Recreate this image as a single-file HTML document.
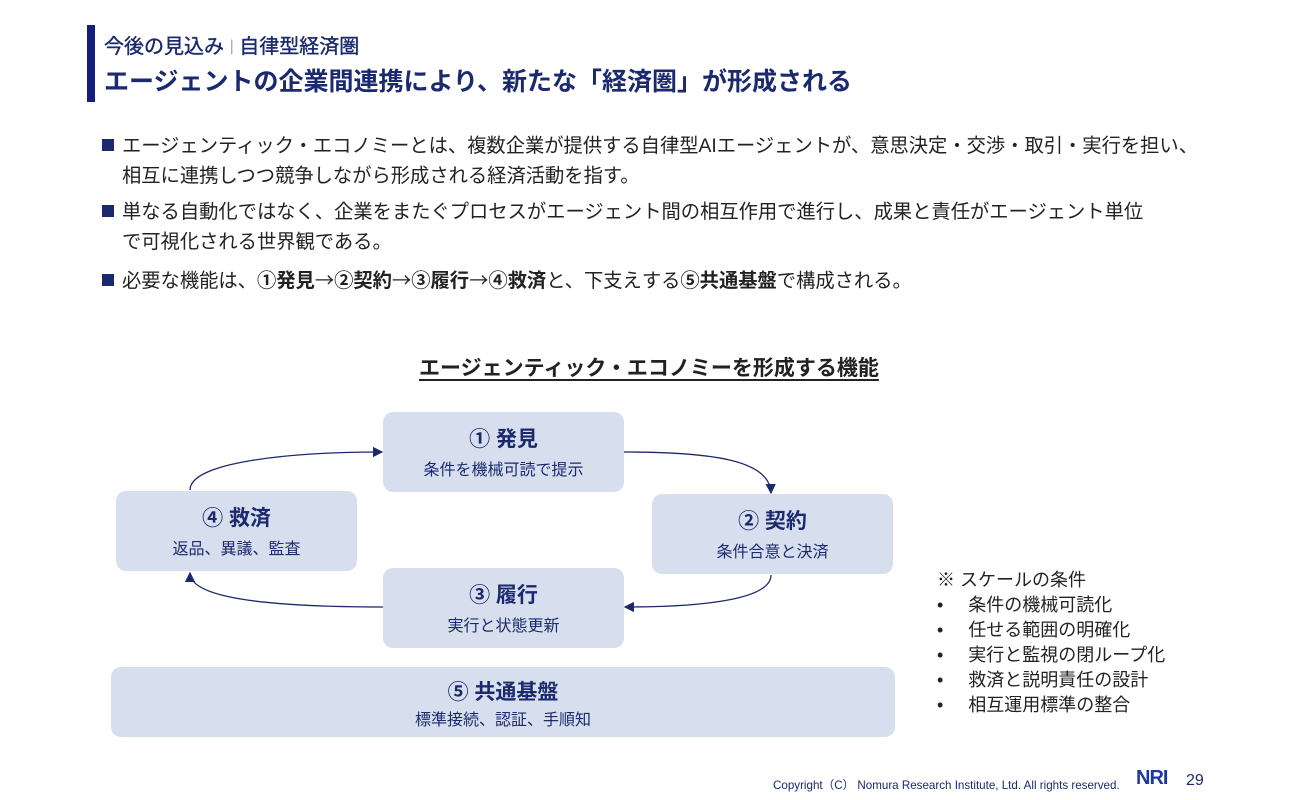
<!DOCTYPE html>
<html><head><meta charset="utf-8"><style>
body{margin:0;width:1300px;height:800px;background:#fff;position:relative;overflow:hidden;font-family:"Liberation Sans","Noto Sans CJK JP",sans-serif;color:#1b2a6e}
.a{position:absolute;white-space:nowrap}
.bar{position:absolute;left:87px;top:25px;width:8px;height:77px;background:#141f7a}
.sub{left:104px;top:30px;font-size:20px;color:#1b2a6e;-webkit-text-stroke:0.4px #1b2a6e}
.ttl{left:104px;top:62px;font-size:25px;font-weight:bold;color:#1b2a6e}
.b{left:102px;font-size:19.3px;color:#222;line-height:30px}
.sq{display:inline-block;width:12px;height:12px;background:#1b2a6e;margin-right:8px;vertical-align:1px}
.ar{font-family:"Noto Sans CJK JP",sans-serif;font-weight:normal}
.box{position:absolute;background:#d7dfee;border-radius:10px;text-align:center;color:#1b2a6e}
.box .h{font-size:21px;font-weight:bold;margin-top:11px}
.box .s{font-size:16px;margin-top:3px}
</style></head><body>
<div class="bar"></div>
<div class="a sub">今後の見込み <span style="color:#aaa;font-size:16px;-webkit-text-stroke:0;vertical-align:2px">|</span> 自律型経済圏</div>
<div class="a ttl">エージェントの企業間連携により、新たな「経済圏」が形成される</div>
<div class="a b" style="top:132px"><span class="sq"></span>エージェンティック・エコノミーとは、複数企業が提供する自律型AIエージェントが、意思決定・交渉・取引・実行を担い、<br><span style="padding-left:20px">相互に連携しつつ競争しながら形成される経済活動を指す。</span></div>
<div class="a b" style="top:198px"><span class="sq"></span>単なる自動化ではなく、企業をまたぐプロセスがエージェント間の相互作用で進行し、成果と責任がエージェント単位<br><span style="padding-left:20px">で可視化される世界観である。</span></div>
<div class="a b" style="top:264px"><span class="sq"></span>必要な機能は、<b>①発見<span class="ar">→</span>②契約<span class="ar">→</span>③履行<span class="ar">→</span>④救済</b>と、下支えする<b>⑤共通基盤</b>で構成される。</div>
<div class="a" style="left:419px;top:352px;font-size:21px;font-weight:bold;color:#222;text-decoration:underline;text-underline-offset:4px">エージェンティック・エコノミーを形成する機能</div>
<svg class="a" style="left:0;top:0" width="1300" height="800">
<defs><marker id="m" markerWidth="8" markerHeight="8" refX="7" refY="4" orient="auto"><path d="M0,0 L8,4 L0,8z" fill="#1b2a6e"/></marker></defs>
<g fill="none" stroke="#1b2a6e" stroke-width="1.3" marker-end="url(#m)">
<path d="M190,490 C190,462 290,452 382,452"/>
<path d="M624,452 C720,452 770,462 771,493"/>
<path d="M771,575 C771,600 700,607 625,607"/>
<path d="M383,607 C280,607 190,600 190,573"/>
</g></svg>
<div class="box" style="left:383px;top:412px;width:241px;height:80px"><div class="h">① 発見</div><div class="s">条件を機械可読で提示</div></div>
<div class="box" style="left:116px;top:491px;width:241px;height:80px"><div class="h">④ 救済</div><div class="s">返品、異議、監査</div></div>
<div class="box" style="left:652px;top:494px;width:241px;height:80px"><div class="h">② 契約</div><div class="s">条件合意と決済</div></div>
<div class="box" style="left:383px;top:568px;width:241px;height:80px"><div class="h">③ 履行</div><div class="s">実行と状態更新</div></div>
<div class="box" style="left:111px;top:667px;width:784px;height:70px"><div class="h" style="margin-top:9px">⑤ 共通基盤</div><div class="s" style="margin-top:0px">標準接続、認証、手順知</div></div>
<div class="a" style="left:937px;top:568px;font-size:18px;color:#222;line-height:25px">※ スケールの条件<br>•&nbsp;&nbsp;&nbsp;&nbsp;&nbsp;条件の機械可読化<br>•&nbsp;&nbsp;&nbsp;&nbsp;&nbsp;任せる範囲の明確化<br>•&nbsp;&nbsp;&nbsp;&nbsp;&nbsp;実行と監視の閉ループ化<br>•&nbsp;&nbsp;&nbsp;&nbsp;&nbsp;救済と説明責任の設計<br>•&nbsp;&nbsp;&nbsp;&nbsp;&nbsp;相互運用標準の整合</div>
<div class="a" style="left:773px;top:777px;font-size:11.6px;color:#1b2a6e">Copyright（C） Nomura Research Institute, Ltd. All rights reserved.</div>
<div class="a" style="left:1136px;top:767px;font-size:20px;font-weight:bold;color:#1b3a9e;letter-spacing:-1px">NRI</div>
<div class="a" style="left:1186px;top:772px;font-size:16px;color:#1b2a6e">29</div>
</body></html>
